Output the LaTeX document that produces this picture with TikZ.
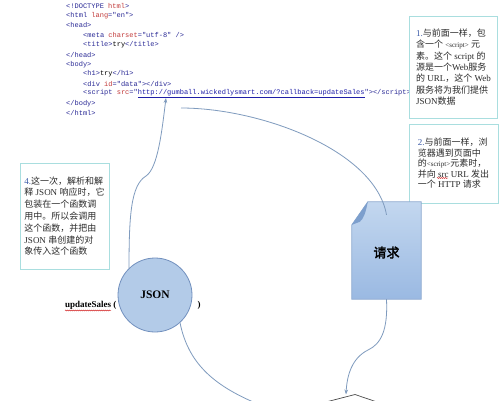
\documentclass[tikz,border=0pt]{standalone}
\usepackage{fontspec}
\setmainfont{Liberation Serif}
\setmonofont{Liberation Mono}
\newfontfamily\cjk{Noto Sans CJK SC}
\newfontfamily\cjkb{Noto Sans CJK SC}[FakeBold=2.5]
\usetikzlibrary{arrows.meta,decorations.pathmorphing}
\definecolor{tagc}{HTML}{2A2A96}
\definecolor{attc}{HTML}{C23A3A}
\definecolor{urlc}{HTML}{1F1FA8}
\definecolor{boxc}{HTML}{A9DEDF}
\definecolor{linec}{HTML}{7F9BBE}
\definecolor{txtc}{HTML}{2B2B2B}
\definecolor{numc}{HTML}{3A5AA8}
\definecolor{circfill}{HTML}{B3CBE8}
\definecolor{circdraw}{HTML}{7290BE}
\definecolor{doctop}{HTML}{C3D7EF}
\definecolor{docbot}{HTML}{9AB9E2}
\definecolor{docline}{HTML}{8CA9CF}
\definecolor{docfold}{HTML}{7D9FCD}
\newcommand{\zh}[1]{{\cjk #1}}
\newcommand{\attr}[1]{\textcolor{attc}{#1}}
\newcommand{\blk}[1]{\textcolor{black}{#1}}
\newcommand{\smtag}[1]{{\fontsize{7}{8}\selectfont #1}}
\begin{document}
\begin{tikzpicture}[x=1pt,y=-1pt,
  codeline/.style={anchor=west, inner sep=0pt, font=\ttfamily\fontsize{7}{8}\selectfont, text=tagc},
  notebox/.style={draw=boxc, line width=0.9pt, fill=white, inner xsep=4pt, inner ysep=0pt, align=left, text=txtc},
  conn/.style={draw=linec, line width=0.8pt},
  tip/.style={-{Stealth[length=5pt,width=3.6pt]}},
  spell/.style={draw=red!80!black, line width=0.4pt, decorate, decoration={snake, segment length=2pt, amplitude=0.5pt}}]
\useasboundingbox (0,0) rectangle (503,400);
\clip (0,0) rectangle (503,400);
\fill[white] (0,0) rectangle (503,400);

% code
\node[codeline] (c1) at (66,6) {<!DOCTYPE \attr{html}>};
\node[codeline] (c2) at (66,15.7) {<html \attr{lang}="en">};
\node[codeline] (c3) at (66,25.4) {<head>};
\node[codeline] (c4) at (83,35.2) {<meta \attr{charset}="utf-8" />};
\node[codeline] (c5) at (83,44.9) {<title>\blk{try}</title>};
\node[codeline] (c6) at (66,54.6) {</head>};
\node[codeline] (c7) at (66,64.3) {<body>};
\node[codeline] (c8) at (83,74) {<h1>\blk{try}</h1>};
\node[codeline] (c9) at (83,83.8) {<div \attr{id}="data"></div>};
\node[codeline] (c10) at (83,93.5) {<script \attr{src}="\textcolor{urlc}{\underline{http://gumball.wickedlysmart.com/?callback=updateSales}}"></script>};
\node[codeline] (c11) at (66,103.2) {</body>};
\node[codeline] (c12) at (66,112.9) {</html>};

% note boxes
\node[notebox, minimum width=88pt, minimum height=102pt, font=\fontsize{9}{11.3}\selectfont] (b1) at (453.5,67) {%
\textcolor{numc}{1.}\zh{与前面一样，包}\\
\zh{含一个} \smtag{<script>} \zh{元}\\
\zh{素。这个} script \zh{的}\\
\zh{源是一个}Web\zh{服务}\\
\zh{的} URL\zh{，这个} Web\\
\zh{服务将为我们提供}\\
JSON\zh{数据}};

\node[notebox, minimum width=89pt, minimum height=79pt, font=\fontsize{9}{10.5}\selectfont] (b2) at (453.5,163.5) {%
\textcolor{numc}{2.}\zh{与前面一样，浏}\\
\zh{览器遇到页面中}\\
\zh{的}\smtag{<script>}\zh{元素时，}\\
\zh{并向} src URL \zh{发出}\\
\zh{一个} HTTP \zh{请求}};

\node[notebox, minimum width=89pt, minimum height=106pt, font=\fontsize{9}{11.8}\selectfont] (b4) at (64.5,216) {%
\textcolor{numc}{4.}\zh{这一次，解析和解}\\
\zh{释} JSON \zh{响应时，它}\\
\zh{包装在一个函数调}\\
\zh{用中。所以会调用}\\
\zh{这个函数，并把由}\\
JSON \zh{串创建的对}\\
\zh{象传入这个函数}};
\draw[spell] (437,178) -- (448,178);

% JSON circle and call
\node[circle, draw=circdraw, fill=circfill, line width=0.8pt, minimum size=74pt, inner sep=0pt,
      font=\bfseries\fontsize{11.5}{12}\selectfont] (json) at (155,295) {JSON};
\node[anchor=west, inner sep=0pt, font=\bfseries\fontsize{9}{10}\selectfont] (us) at (65,305) {updateSales (};
\draw[spell] ([yshift=-1.2pt]us.south west) -- ++(46,0);
\node[inner sep=0pt, font=\bfseries\fontsize{9}{10}\selectfont] (rp) at (199,305) {)};

% request document
\node[minimum width=69pt, minimum height=97pt, inner sep=0pt] (doc) at (386.5,250.5) {};
\path[draw=docline, line width=0.7pt, top color=doctop, bottom color=docbot]
  ([xshift=16pt]doc.north west) -- (doc.north east) -- (doc.south east) -- (doc.south west)
  -- ([yshift=-23pt]doc.north west) -- cycle;
\fill[docfold] ([xshift=16pt]doc.north west)
  .. controls ([xshift=14pt,yshift=-10pt]doc.north west) and ([xshift=12pt,yshift=-17pt]doc.north west) ..
  ([xshift=8pt,yshift=-20pt]doc.north west) -- ([yshift=-23pt]doc.north west) -- cycle;
\node[inner sep=0pt, font=\cjkb\fontsize{13}{14}\selectfont] (reqtxt) at ([yshift=-2pt]doc.center) {请求};

% bottom shape (cut off)
\coordinate (bt) at (355,394.5);
\draw[draw=gray!60!black, fill=white, line width=0.7pt] (322,403) -- (bt) -- (380,403);

% connectors
\coordinate (urlpt) at (166,98);
\draw[conn, tip] (json.134) .. controls (129,215) and (131,185) .. (146,176)
  .. controls (158,168) and (162,130) .. (urlpt);
\coordinate (c2start) at (181,108);
\draw[conn] (c2start) .. controls (260,108) and (375,150) .. ([yshift=-13pt]doc.north);
\coordinate (arrowend) at (346,394.5);
\draw[conn, tip] (doc.south) .. controls (388,330) and (381,344) .. (368,350)
  .. controls (352,358) and (347,375) .. (arrowend);
\coordinate (c4end) at (258,404);
\draw[conn] (json.-48) .. controls (188,362) and (212,385) .. (c4end);
\end{tikzpicture}
\end{document}
